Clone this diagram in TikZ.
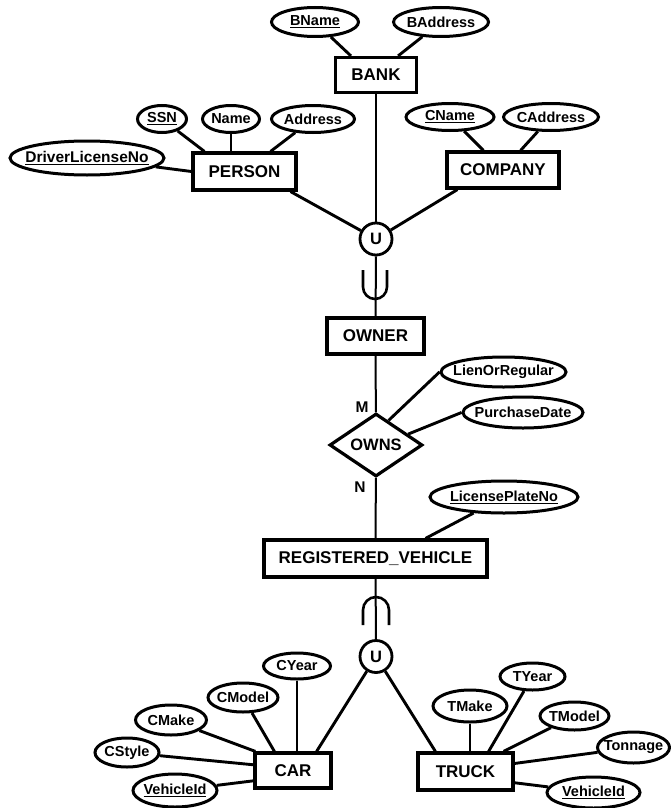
\documentclass[tikz,border=0pt]{standalone}
\usepackage{fontspec}
\setmainfont{Liberation Sans}
\usetikzlibrary{shapes.geometric,calc}
\newcommand\mz[1]{\makebox[0pt]{#1}}
\begin{document}
\begin{tikzpicture}[x=1pt,y=-1pt,
  ent/.style={draw,rectangle,line width=3.2pt,inner sep=0pt,font=\fontsize{17}{19}\selectfont\bfseries},
  attr/.style={draw,ellipse,line width=3pt,inner sep=0pt,font=\fontsize{14.5}{16}\selectfont\bfseries},
  uni/.style={draw,circle,line width=2.8pt,minimum size=32pt,inner sep=0pt,font=\fontsize{16.5}{18}\selectfont\bfseries},
  rel/.style={draw,diamond,line width=3.2pt,inner sep=0pt,minimum width=93pt,minimum height=61pt,font=\fontsize{16.5}{18}\selectfont\bfseries},
  lnk/.style={line width=2.9pt},
  spine/.style={line width=2pt},
  cupl/.style={line width=2.6pt},
  card/.style={font=\fontsize{15.5}{17}\selectfont\bfseries}]
\useasboundingbox (0,0) rectangle (670,808);
% entities
\node[ent,minimum width=81pt,minimum height=35pt] (bank) at (376,75) {BANK};
\node[ent,minimum width=103pt,minimum height=37pt] (person) at (244.5,171.5) {PERSON};
\node[ent,minimum width=112pt,minimum height=36pt] (company) at (503,170) {COMPANY};
\node[ent,minimum width=97pt,minimum height=36pt] (owner) at (375.5,336) {OWNER};
\node[ent,minimum width=223pt,minimum height=37pt] (reg) at (375.5,558.5) {REGISTERED\_VEHICLE};
\node[ent,minimum width=76pt,minimum height=35pt] (car) at (293,770.5) {CAR};
\node[ent,minimum width=95pt,minimum height=37pt] (truck) at (465.5,771.5) {TRUCK};
% union circles
\node[uni] (u1) at (376,239) {U};
\node[uni] (u2) at (376,656.5) {U};
% relationship
\node[rel] (owns) at (376,445) {OWNS};
% attributes
\node[attr,minimum width=87pt,minimum height=29pt] (bname) at (315,22) {\mz{\underline{BName}}};
\node[attr,minimum width=95pt,minimum height=29pt] (baddr) at (441,22) {\mz{BAddress}};
\node[attr,minimum width=49pt,minimum height=27pt] (ssn) at (162,119) {\mz{\underline{SSN}}};
\node[attr,minimum width=57pt,minimum height=27pt] (name) at (231,119) {\mz{Name}};
\node[attr,minimum width=83pt,minimum height=27pt] (addr) at (313,119) {\mz{Address}};
\node[attr,minimum width=154pt,minimum height=34pt,font=\fontsize{15.5}{17}\selectfont\bfseries] (dl) at (87,158) {\mz{\underline{DriverLicenseNo}}};
\node[attr,minimum width=88pt,minimum height=27pt] (cname) at (450,117) {\mz{\underline{CName}}};
\node[attr,minimum width=95pt,minimum height=27pt] (caddr) at (551,117) {\mz{CAddress}};
\node[attr,minimum width=125pt,minimum height=30pt] (lien) at (503.5,372) {\mz{LienOrRegular}};
\node[attr,minimum width=120pt,minimum height=31pt] (pd) at (523,412.5) {\mz{PurchaseDate}};
\node[attr,minimum width=148pt,minimum height=32pt] (lp) at (504,497) {\mz{\underline{LicensePlateNo}}};
\node[attr,minimum width=67pt,minimum height=26pt] (cyear) at (297,666) {\mz{CYear}};
\node[attr,minimum width=70pt,minimum height=29pt] (cmodel) at (243,697.5) {\mz{CModel}};
\node[attr,minimum width=71pt,minimum height=30pt] (cmake) at (171,720) {\mz{CMake}};
\node[attr,minimum width=64pt,minimum height=29pt] (cstyle) at (127,752.5) {\mz{CStyle}};
\node[attr,minimum width=84pt,minimum height=33pt] (cvid) at (175,790.5) {\mz{\underline{VehicleId}}};
\node[attr,minimum width=65pt,minimum height=27pt] (tyear) at (532.5,676.5) {\mz{TYear}};
\node[attr,minimum width=74pt,minimum height=32pt] (tmake) at (470,706) {\mz{TMake}};
\node[attr,minimum width=69pt,minimum height=28pt] (tmodel) at (574.5,716) {\mz{TModel}};
\node[attr,minimum width=72pt,minimum height=31pt] (tonnage) at (633.5,747.5) {\mz{Tonnage}};
\node[attr,minimum width=93pt,minimum height=31pt] (tvid) at (593.5,792.5) {\mz{\underline{VehicleId}}};
% cardinalities
\node[card] (m) at (362,407) {M};
\node[card] (n) at (360,487) {N};
% attribute links
\draw[lnk] (bname) -- ([xshift=17pt]bank.north west);
\draw[lnk] (baddr) -- ([xshift=-20pt]bank.north east);
\draw[lnk] (ssn) -- ([xshift=13pt]person.north west);
\draw[lnk] (name) -- (name |- person.north);
\draw[lnk] (addr) -- ([xshift=-27pt]person.north east);
\draw[lnk] (dl) -- (person.west);
\draw[lnk] (cname) -- ([xshift=38pt]company.north west);
\draw[lnk] (caddr) -- ([xshift=-40pt]company.north east);
\draw[lnk] ($(owns.north)!0.26!(owns.east)$) -- (lien.west);
\draw[lnk] ($(owns.north)!0.67!(owns.east)$) -- (pd.west);
\draw[lnk] (lp) -- ([xshift=50pt]reg.north);
\draw[lnk] (cyear) -- (cyear |- car.north);
\draw[lnk] (cmodel) -- ([xshift=21pt]car.north west);
\draw[lnk] (cmake) -- ([xshift=2pt]car.north west);
\draw[lnk] (cstyle) -- ($(car.north west)!0.35!(car.south west)$);
\draw[lnk] (cvid) -- ($(car.north west)!0.77!(car.south west)$);
\draw[lnk] (tmake) -- (tmake |- truck.north);
\draw[lnk] (tyear) -- ([xshift=-26pt]truck.north east);
\draw[lnk] (tmodel) -- ([xshift=-11pt]truck.north east);
\draw[lnk] (tonnage) -- ($(truck.north east)!0.3!(truck.south east)$);
\draw[lnk] (tvid) -- ($(truck.north east)!0.78!(truck.south east)$);
% union links
\draw[lnk] ([xshift=-7pt]person.south east) -- (u1);
\draw[lnk] ([xshift=12pt]company.south west) -- (u1);
\draw[spine] (bank) -- (u1);
\draw[spine] (u1) -- (owner);
\draw[spine] (owner) -- (owns);
\draw[spine] (owns) -- (reg);
\draw[spine] (reg) -- (u2);
\draw[lnk] (u2) -- ([xshift=-16pt]car.north east);
\draw[lnk] (u2) -- ([xshift=19pt]truck.north west);
% subset symbols
\coordinate (cupa) at (363,270);
\coordinate (capa) at (363,625);
\draw[cupl] (cupa) -- ++(0,17) arc[start angle=180,end angle=360,radius=12pt] -- ++(0,-17);
\draw[cupl] (capa) -- ++(0,-15) arc[start angle=180,end angle=0,radius=13pt] -- ++(0,15);
\end{tikzpicture}
\end{document}
